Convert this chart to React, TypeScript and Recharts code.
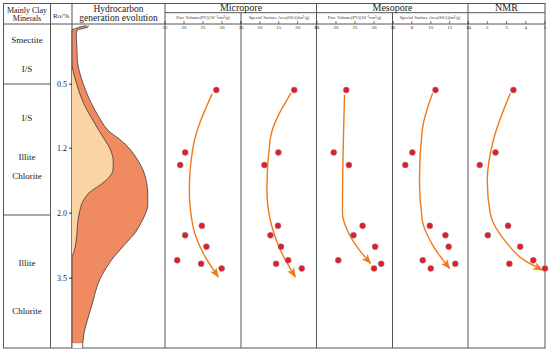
import React from 'react';
import { ComposedChart, ScatterChart, Scatter, Area, XAxis, YAxis } from 'recharts';

// depth axis is schematic: 0 = top of the profile, 100 = bottom
const sampleDepth = [20.3, 39.5, 43.4, 62.1, 65.0, 68.5, 72.7, 73.8, 75.2];

const microPV = [28.5, 20.3, 19.0, 24.7, 20.3, 25.9, 18.2, 24.5, 29.9];
const microSSA = [19.1, 14.9, 11.2, 14.8, 12.8, 15.6, 17.5, 14.3, 21.1];
const mesoPV = [22.7, 19.4, 23.4, 27.0, 24.6, 30.3, 20.6, 31.9, 30.0];
const mesoSSA = [10.5, 8.05, 7.3, 9.9, 11.55, 11.9, 9.15, 12.6, 10.0];
const nmr = [3.36, 2.43, 1.61, 3.08, 2.03, 3.71, 4.39, 3.15, 5.0];

// trend arrows (value, depth)
const microPVTrendV = [27.4, 22.4, 21.4, 22.4, 25.1, 29.0];
const microPVTrendD = [21.5, 37.8, 51.1, 62.4, 70.6, 77.8];
const microSSATrendV = [18.25, 12.7, 11.85, 13.2, 15.85, 19.4];
const microSSATrendD = [21.3, 35.7, 51.1, 62.4, 70.6, 77.8];
const mesoPVTrendV = [22.25, 21.9, 21.7, 22.95, 26.5, 29.1];
const mesoPVTrendD = [21.8, 37.8, 58.2, 63.4, 70.1, 73.6];
const mesoSSATrendV = [10.2, 9.1, 8.8, 9.1, 10.3, 12.0];
const mesoSSATrendD = [21.3, 32.6, 48.0, 60.3, 68.5, 75.2];
const nmrTrendV = [3.2, 2.32, 2.0, 2.15, 3.03, 3.9, 4.86];
const nmrTrendD = [21.3, 35.7, 48.0, 58.2, 67.5, 72.6, 75.7];

const pvTicks = [15, 20, 25, 30, 35];
const microSSATicks = [5, 10, 15, 20, 25];
const mesoSSATicks = [6, 8, 10, 12, 14];
const nmrTicks = [1, 2, 3, 4, 5];

const roDepth = [18.5, 38.2, 58.2, 78.2];
const roLabels = ['0.5', '1.2', '2.0', '3.5'];

// hydrocarbon generation evolution envelope (relative width 0-100)
const outerDepth = [0.55, 0.92, 1.38, 1.85, 3.4, 6.5, 11.1, 14.8, 18.5, 22.5, 26.5, 30.2, 32.0, 33.5, 35.1, 37.2, 39.7, 42.5, 44.9, 48.6, 52.6, 55.7, 58.2, 61.2, 64.3, 67.1, 69.5, 72.0, 74.8, 77.2, 79.7, 84.9, 90.2, 95.1, 98.2, 98.3];
const outerLeft = [15.1, 8.6, 3.8, 0, 0, 0, 0, 0, 0, 0, 0, 0, 0, 0, 0, 0, 0, 0, 0, 0, 0, 0, 0, 0, 0, 0, 0, 0, 0, 0, 0, 0, 0, 0, 0, 0];
const outerRight = [17.7, 17.2, 11.8, 5.4, 4.5, 5.2, 5.7, 8.1, 12.2, 17.7, 24.7, 32.3, 36.6, 41.9, 49.5, 58.1, 65.6, 72.0, 76.3, 80.1, 81.5, 81.5, 79.2, 74.2, 67.7, 59.1, 51.6, 44.1, 37.3, 32.3, 28.3, 22.9, 17.5, 12.9, 11.5, 0];
const oilDepth = [12.9, 15.7, 18.5, 22.5, 26.5, 30.2, 34.8, 37.2, 39.7, 42.5, 44.9, 46.8, 48.9, 51.7, 54.2, 57.2, 60.3, 64.0, 67.1, 69.5, 71.7];
const oilRight = [0, 2.2, 5.1, 9.7, 16.1, 23.7, 33.3, 38.7, 42.7, 44.4, 44.1, 40.9, 33.3, 19.4, 12.4, 8.6, 6.5, 5.4, 4.3, 2.7, 0];
const baseDepth = [98.2, 99.7];
const baseRight = [11.5, 11.5];

const clayLabels = ['Smectite', 'I/S', 'I/S', 'Illite', 'Chlorite', 'Illite', 'Chlorite'];

const FONT = '"Liberation Serif", "DejaVu Serif", serif';
const ORANGE = '#EE7A1A';
const DOT = '#E11D2A';
const LINE = '#555';

const PLOT_TOP = 24;
const PLOT_H = 325;
const AXIS_H = 8;
const panelEdges = [165, 241, 316.5, 392.5, 468, 545];
const clayBaselines = [43, 72, 121, 160, 179, 266, 314];

const TopTick = (p: any) => (
  <text x={p.x} y={p.y + 7.8} textAnchor="middle" fontSize={5} fill="#333" fontFamily={FONT}>
    {p.payload.value}
  </text>
);

const RoTick = (p: any) => (
  <text x={p.x} y={p.y + 2.8} textAnchor="end" fontSize={8} fill="#222" fontFamily={FONT}>
    {roLabels[roDepth.indexOf(p.payload.value)]}
  </text>
);

const Dot = (p: any) => <circle cx={p.cx} cy={p.cy} r={3} fill={DOT} stroke="#8c8c8c" strokeWidth={0.5} />;

function PanelChart(props: any) {
  const { left, width, domain, ticks, values, trendV, trendD } = props;
  const dots = values.map((v: number, i: number) => ({ v, d: sampleDepth[i] }));
  const trend = trendV.map((v: number, i: number) => ({ v, d: trendD[i] }));
  return (
    <div style={{ position: 'absolute', left, top: PLOT_TOP - AXIS_H }}>
      <ScatterChart width={width} height={AXIS_H + PLOT_H} margin={{ top: 0, right: 0, bottom: 0, left: 0 }}>
        <XAxis
          type="number"
          dataKey="v"
          orientation="top"
          domain={domain}
          ticks={ticks}
          interval={0}
          height={AXIS_H}
          tickSize={3}
          tickMargin={0}
          axisLine={false}
          tickLine={{ stroke: '#444', strokeWidth: 0.7 }}
          tick={(tp: any) => <TopTick {...tp} />}
        />
        <YAxis type="number" dataKey="d" domain={[0, 100]} reversed hide />
        <Scatter
          data={trend}
          line={{ stroke: ORANGE, strokeWidth: 1.4, markerEnd: 'url(#trendArrow)' }}
          lineJointType="monotoneY"
          shape={() => <g />}
          isAnimationActive={false}
        />
        <Scatter data={dots} shape={Dot} isAnimationActive={false} />
      </ScatterChart>
    </div>
  );
}

export default function App() {
  const outerData = outerDepth.map((d, i) => ({ d, r: [outerLeft[i], outerRight[i]] }));
  const oilData = oilDepth.map((d, i) => ({ d, r: oilRight[i] }));
  const baseData = baseDepth.map((d, i) => ({ d, r: [0, baseRight[i]] }));

  const panels = [
    { domain: [15, 35], ticks: pvTicks, values: microPV, trendV: microPVTrendV, trendD: microPVTrendD },
    { domain: [5, 25], ticks: microSSATicks, values: microSSA, trendV: microSSATrendV, trendD: microSSATrendD },
    { domain: [15, 35], ticks: pvTicks, values: mesoPV, trendV: mesoPVTrendV, trendD: mesoPVTrendD },
    { domain: [6, 14], ticks: mesoSSATicks, values: mesoSSA, trendV: mesoSSATrendV, trendD: mesoSSATrendD },
    { domain: [1, 5], ticks: nmrTicks, values: nmr, trendV: nmrTrendV, trendD: nmrTrendD },
  ];

  const sub = (x: number, t: string) => (
    <text x={x} y={19} textAnchor="middle" fontSize={4.5} fill="#333">{t}</text>
  );

  return (
    <div style={{ position: 'absolute', left: 0, top: 0, width: 550, height: 354, background: '#fff', fontFamily: FONT }}>
      <style>{`.recharts-surface{overflow:visible}`}</style>
      <svg width={550} height={354} style={{ position: 'absolute', left: 0, top: 0 }}>
        <defs>
          <marker id="trendArrow" viewBox="0 0 10 8" refX={9} refY={4} markerWidth={10} markerHeight={8} markerUnits="userSpaceOnUse" orient="auto">
            <path d="M0,0 L10,4 L0,8 L2.5,4 z" fill={ORANGE} />
          </marker>
        </defs>
        <g stroke={LINE} strokeWidth={1} fill="none">
          <rect x={3.5} y={3.5} width={541.5} height={344.5} />
          <line x1={50.5} y1={3.5} x2={50.5} y2={348} />
          <line x1={72} y1={3.5} x2={72} y2={348} />
          <line x1={165} y1={3.5} x2={165} y2={348} />
          <line x1={241} y1={12.7} x2={241} y2={348} />
          <line x1={316.5} y1={3.5} x2={316.5} y2={348} />
          <line x1={392.5} y1={12.7} x2={392.5} y2={348} />
          <line x1={468} y1={3.5} x2={468} y2={348} />
          <line x1={3.5} y1={24} x2={545} y2={24} />
          <line x1={165} y1={12.7} x2={545} y2={12.7} />
          <line x1={3.5} y1={84} x2={50.5} y2={84} />
          <line x1={3.5} y1={215} x2={50.5} y2={215} />
        </g>
        <g fontFamily={FONT} fill="#222">
          <text x={27} y={12.5} textAnchor="middle" fontSize={8}>Mainly Clay</text>
          <text x={27} y={20.5} textAnchor="middle" fontSize={8}>Minerals</text>
          <text x={61} y={17.5} textAnchor="middle" fontSize={7}>Ro/%</text>
          <text x={118.5} y={11.5} textAnchor="middle" fontSize={9.5}>Hydrocarbon</text>
          <text x={118.5} y={20.5} textAnchor="middle" fontSize={9.5}>generation evolution</text>
          <text x={241} y={11} textAnchor="middle" fontSize={10}>Micropore</text>
          <text x={392.5} y={11} textAnchor="middle" fontSize={10}>Mesopore</text>
          <text x={506.5} y={11} textAnchor="middle" fontSize={10}>NMR</text>
          {sub(203, 'Pore Volume(PV)(10⁻³cm³/g)')}
          {sub(279, 'Special Surface Area(SSA)(m²/g)')}
          {sub(354.5, 'Pore Volume(PV)(10⁻³cm³/g)')}
          {sub(430, 'Special Surface Area(SSA)(m²/g)')}
          {clayLabels.map((t, i) => (
            <text key={i} x={27} y={clayBaselines[i]} textAnchor="middle" fontSize={9}>{t}</text>
          ))}
        </g>
      </svg>

      <div style={{ position: 'absolute', left: 50, top: PLOT_TOP }}>
        <ComposedChart layout="vertical" width={115} height={PLOT_H} margin={{ top: 0, right: 0, bottom: 0, left: 0 }}>
          <XAxis type="number" domain={[0, 100]} hide />
          <YAxis
            type="number"
            dataKey="d"
            domain={[0, 100]}
            ticks={roDepth}
            interval={0}
            width={22}
            axisLine={false}
            tickSize={3}
            tickMargin={2}
            tickLine={{ stroke: '#333' }}
            tick={(tp: any) => <RoTick {...tp} />}
          />
          <Area data={outerData} dataKey="r" type="monotoneY" fill="#F08A60" fillOpacity={1} stroke="#3a3a3a" strokeWidth={0.8} isAnimationActive={false} />
          <Area data={oilData} dataKey="r" type="monotoneY" fill="#FBD4A3" fillOpacity={1} stroke="#3a3a3a" strokeWidth={0.8} isAnimationActive={false} />
          <Area data={baseData} dataKey="r" type="linear" fill="#fff" fillOpacity={1} stroke="#3a3a3a" strokeWidth={0.8} isAnimationActive={false} />
        </ComposedChart>
      </div>

      {panels.map((p, i) => (
        <PanelChart key={i} left={panelEdges[i]} width={panelEdges[i + 1] - panelEdges[i]} {...p} />
      ))}
    </div>
  );
}
